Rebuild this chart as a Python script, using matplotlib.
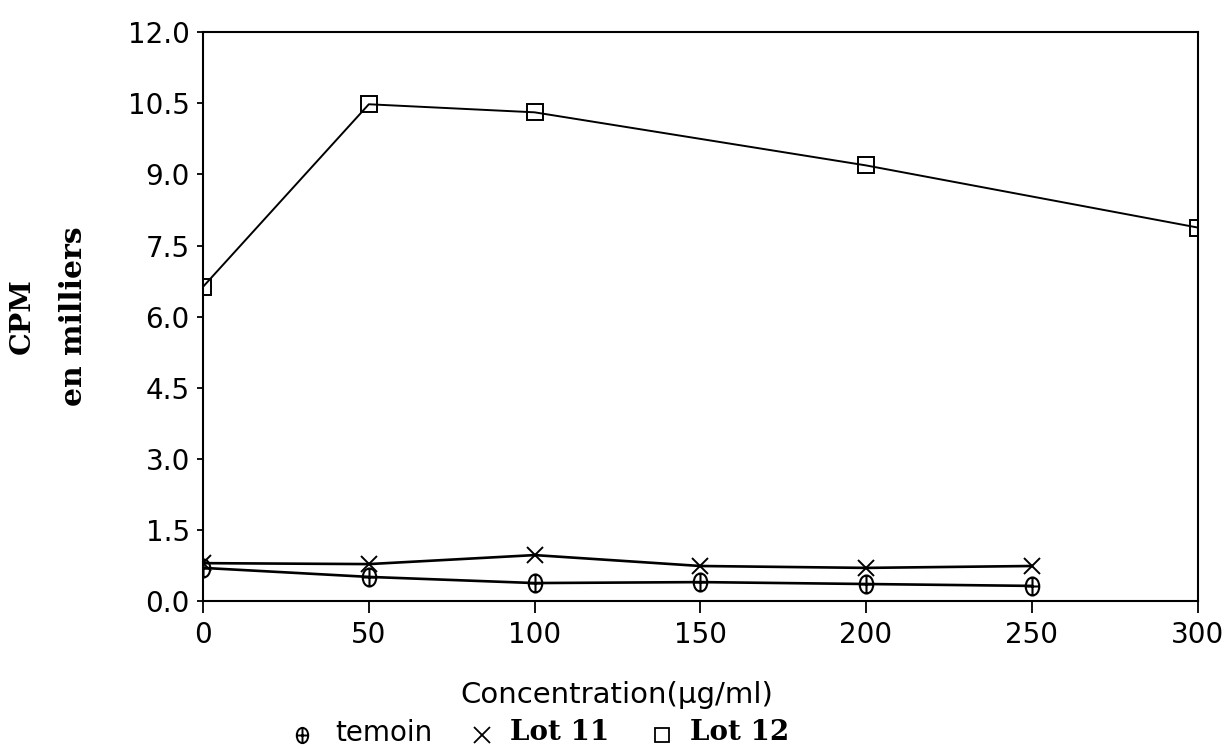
import matplotlib.pyplot as plt
from matplotlib.lines import Line2D
from matplotlib.path import Path

# concentrations (ug/ml) and CPM (thousands)
conc = [0, 50, 100, 150, 200, 250]
temoin = [0.70, 0.51, 0.38, 0.40, 0.36, 0.32]
lot11 = [0.80, 0.78, 0.97, 0.74, 0.70, 0.74]
conc12 = [0, 50, 100, 200, 300]
lot12 = [6.63, 10.48, 10.31, 9.19, 7.88]

yticks = [0.0, 1.5, 3.0, 4.5, 6.0, 7.5, 9.0, 10.5, 12.0]
xticks = [0, 50, 100, 150, 200, 250, 300]
series_names = ['temoin', 'Lot 11', 'Lot 12']

# tall ellipse with a cross inside, for the temoin points
ell = Path.unit_circle()
ell = Path(ell.vertices * [0.75, 1.0], ell.codes)
cross = Path([(-0.75, 0), (0.75, 0), (0, -1), (0, 1)],
             [Path.MOVETO, Path.LINETO, Path.MOVETO, Path.LINETO])
oplus = Path.make_compound_path(ell, cross)

fig = plt.figure(figsize=(12.27, 7.49), dpi=100)
ax = fig.add_axes([0.1655, 0.1975, 0.8105, 0.7595])

ax.plot(conc, temoin, '-', color='black', lw=1.9)
ax.plot(conc, temoin, ls='none', marker=oplus, mfc='none', mec='black', ms=13, mew=1.5)
ax.plot(conc, lot11, '-', color='black', lw=1.9)
ax.plot(conc, lot11, 'x', color='black', ms=12, mew=1.4)
ax.plot(conc12, lot12, 's-', color='black', mfc='none', ms=12, mew=1.4, lw=1.4)

ax.set_xlim(0, 300)
ax.set_ylim(0, 12)
ax.set_xticks(xticks)
ax.set_yticks(yticks)
ax.set_yticklabels(['%.1f' % v for v in yticks])
ax.tick_params(axis='both', labelsize=20, color='black', width=1.3)
ax.tick_params(axis='x', direction='out', length=8.5, pad=6)
ax.tick_params(axis='y', direction='out', length=4.5, pad=5)
for sp in ax.spines.values():
    sp.set_linewidth(1.5)

# y axis title, two lines
fig.text(0.018, 0.578, 'CPM', rotation=90, ha='center', va='center',
         fontsize=20.5, fontweight='bold', family='DejaVu Serif')
fig.text(0.060, 0.578, 'en milliers', rotation=90, ha='center', va='center',
         fontsize=21.5, fontweight='bold', family='DejaVu Serif')

fig.text(0.375, 0.072, u'Concentration(\u03bcg/ml)', ha='left', va='center', fontsize=21)

# legend row under the x title
ly = 0.019
marks = [dict(marker=oplus, ms=11, mfc='none', mec='black', mew=1.4),
         dict(marker='x', ms=11, color='black', mew=1.3),
         dict(marker='s', ms=10, mfc='none', mec='black', mew=1.3)]
mark_x = [302, 482, 662]
text_x = [335, 510, 690]
for i in range(3):
    fig.add_artist(Line2D([mark_x[i] / 1227.0], [ly], transform=fig.transFigure,
                          ls='none', **marks[i]))
    if i == 0:
        fig.text(text_x[i] / 1227.0, ly + 0.003, series_names[i], ha='left', va='center',
                 fontsize=20)
    else:
        fig.text(text_x[i] / 1227.0, ly + 0.003, series_names[i], ha='left', va='center',
                 fontsize=20, fontweight='bold', family='DejaVu Serif')

fig.savefig('out.png', dpi=100)
